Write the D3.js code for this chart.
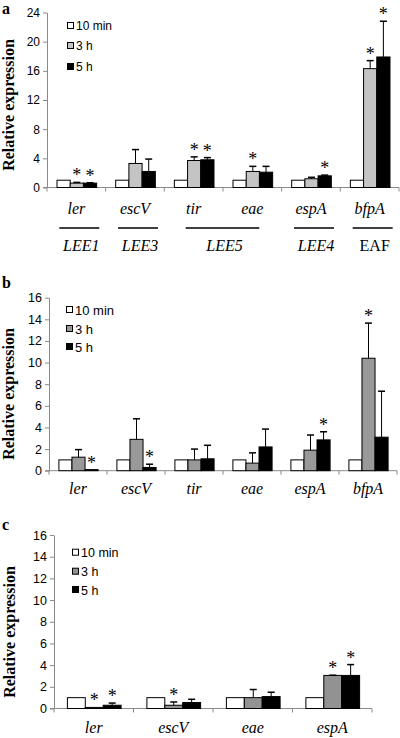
<!DOCTYPE html>
<html>
<head>
<meta charset="utf-8">
<script src="https://cdn.jsdelivr.net/npm/d3@7"></script>
<style>
  html, body { margin: 0; padding: 0; background: #fff; }
  svg { display: block; }
</style>
</head>
<body>
<svg id="chart" width="400" height="738"></svg>
<script>
// ---------- DATA ----------
const seriesNames = ["10 min", "3 h", "5 h"];

// Panel a
const genesA = ["ler", "escV", "tir", "eae", "espA", "bfpA"];
const a10min = [1, 1, 1, 1, 1, 1];
const a3h = [0.6, 3.3, 3.7, 2.2, 1.2, 16.3];
const a5h = [0.6, 2.2, 3.8, 2.1, 1.6, 17.9];
const a10minErr = [0, 0, 0, 0, 0, 0];
const a3hErr = [0.1, 1.9, 0.5, 0.7, 0.2, 1.1];
const a5hErr = [0.05, 1.7, 0.3, 0.8, 0.1, 4.9];
const a3hSig = [1, 0, 1, 1, 0, 1];
const a5hSig = [1, 0, 1, 0, 1, 1];
const aTicks = [0, 4, 8, 12, 16, 20, 24];
const aOperons = ["LEE1", "LEE3", "LEE5", "LEE4", "EAF"];
const aOperonFirst = ["ler", "escV", "tir", "espA", "bfpA"];
const aOperonLast = ["ler", "escV", "eae", "espA", "bfpA"];

// Panel b
const genesB = ["ler", "escV", "tir", "eae", "espA", "bfpA"];
const b10min = [1, 1, 1, 1, 1, 1];
const b3h = [1.25, 2.9, 1.0, 0.7, 1.9, 10.4];
const b5h = [0.1, 0.3, 1.1, 2.2, 2.85, 3.1];
const b10minErr = [0, 0, 0, 0, 0, 0];
const b3hErr = [0.7, 1.9, 1.0, 0.95, 1.4, 3.25];
const b5hErr = [0, 0.3, 1.25, 1.65, 0.75, 4.25];
const b3hSig = [0, 0, 0, 0, 0, 1];
const b5hSig = [1, 1, 0, 0, 1, 0];
const bTicks = [0, 2, 4, 6, 8, 10, 12, 14, 16];

// Panel c
const genesC = ["ler", "escV", "eae", "espA"];
const c10min = [1, 1, 1, 1];
const c3h = [0.1, 0.3, 1.0, 3.05];
const c5h = [0.3, 0.55, 1.1, 3.05];
const c10minErr = [0, 0, 0, 0];
const c3hErr = [0, 0.3, 0.75, 0.02];
const c5hErr = [0.2, 0.3, 0.4, 1.0];
const c3hSig = [1, 1, 0, 1];
const c5hSig = [1, 0, 0, 1];
const cTicks = [0, 2, 4, 6, 8, 10, 12, 14, 16];

// ---------- DRAWING ----------
const svg = d3.select("#chart");
const SERIF = "'Liberation Serif','Times New Roman',serif";
const SANS = "'Liberation Sans',Arial,sans-serif";
const AXIS = "#8a8a8a";

function drawPanel(p) {
  const g = svg.append("g");
  const y = d3.scaleLinear().domain([0, p.ticks[p.ticks.length - 1]]).range([p.y0, p.yTop]);
  const x0 = d3.scaleBand().domain(p.genes).range([p.xL, p.xR]).padding(0);
  const x1 = d3.scaleBand().domain(seriesNames).range([0, x0.bandwidth()])
    .paddingInner(0).paddingOuter(0.72);

  // panel letter
  g.append("text").attr("x", 2).attr("y", p.letterY)
    .attr("font-family", SERIF).attr("font-weight", "bold").attr("font-size", 16)
    .text(p.letter);

  // y title
  g.append("text")
    .attr("transform", `translate(${p.titleX},${p.titleY}) rotate(-90)`)
    .attr("text-anchor", "middle")
    .attr("font-family", SERIF).attr("font-weight", "bold").attr("font-size", 16)
    .text("Relative expression");

  // y axis
  const yAxis = d3.axisLeft(y).tickValues(p.ticks).tickSize(4).tickPadding(3).tickSizeOuter(0);
  const ya = g.append("g").attr("transform", `translate(${p.xL},0)`).call(yAxis);
  ya.select(".domain").attr("stroke", AXIS);
  ya.selectAll(".tick line").attr("stroke", AXIS);
  ya.selectAll(".tick text").attr("font-family", SANS).attr("font-size", p.tickFont).attr("fill", "#000");

  // x axis line + category boundary ticks
  g.append("line").attr("x1", p.xL - 4).attr("x2", p.xR).attr("y1", p.y0).attr("y2", p.y0)
    .attr("stroke", AXIS);
  const bounds = p.genes.map(d => x0(d)).concat([p.xR]);
  g.selectAll(".bt").data(bounds).join("line")
    .attr("x1", d => d).attr("x2", d => d)
    .attr("y1", p.y0).attr("y2", p.y0 + 4).attr("stroke", AXIS);

  // bars
  const rows = p.genes.map((gene, i) => seriesNames.map((s, k) => ({
    gene, s, v: p.vals[k][i], e: p.errs[k][i], sig: p.sigs[k] ? p.sigs[k][i] : 0, k
  })));
  const groups = g.selectAll(".grp").data(rows).join("g")
    .attr("transform", d => `translate(${x0(d[0].gene)},0)`);
  groups.selectAll("rect").data(d => d).join("rect")
    .attr("x", d => x1(d.s) + 0.5)
    .attr("y", d => y(d.v))
    .attr("width", x1.bandwidth())
    .attr("height", d => Math.max(0.5, y(0) - y(d.v)))
    .attr("fill", d => p.colors[d.k])
    .attr("stroke", "#000").attr("stroke-width", 1);
  // error bars
  const eb = groups.selectAll(".eb").data(d => d.filter(r => r.e > 0)).join("g");
  eb.append("line")
    .attr("x1", d => x1(d.s) + x1.bandwidth() / 2 + 0.5)
    .attr("x2", d => x1(d.s) + x1.bandwidth() / 2 + 0.5)
    .attr("y1", d => y(d.v)).attr("y2", d => y(d.v + d.e))
    .attr("stroke", "#000");
  eb.append("line")
    .attr("x1", d => x1(d.s) + x1.bandwidth() / 2 - 3)
    .attr("x2", d => x1(d.s) + x1.bandwidth() / 2 + 4)
    .attr("y1", d => y(d.v + d.e)).attr("y2", d => y(d.v + d.e))
    .attr("stroke", "#000").attr("stroke-width", 1.5);
  // significance stars
  groups.selectAll(".star").data(d => d.filter(r => r.sig)).join("text")
    .attr("x", d => x1(d.s) + x1.bandwidth() / 2 + 0.5)
    .attr("y", d => y(d.v + d.e) - 1)
    .attr("text-anchor", "middle")
    .attr("font-family", SERIF).attr("font-size", 18)
    .text("*");

  // gene labels
  g.selectAll(".gl").data(p.genes).join("text")
    .attr("x", d => x0(d) + x0.bandwidth() / 2)
    .attr("y", p.labelY)
    .attr("text-anchor", "middle")
    .attr("font-family", SERIF).attr("font-style", "italic").attr("font-size", 16)
    .text(d => d);

  // legend
  const lg = g.append("g");
  seriesNames.forEach((s, k) => {
    const cy = p.legY[k];
    lg.append("rect").attr("x", p.legX + 0.5).attr("y", cy - 3.5).attr("width", 6).attr("height", 6)
      .attr("fill", p.colors[k]).attr("stroke", "#000");
    lg.append("text").attr("x", p.legX + 9).attr("y", cy + p.legFont * 0.36)
      .attr("font-family", SANS).attr("font-size", p.legFont).text(s);
  });

  // operon grouping (panel a)
  if (p.operons) {
    p.operons.forEach((name, i) => {
      const f = p.operonFirst[i], l = p.operonLast[i];
      const cf = x0(f) + x0.bandwidth() / 2, cl = x0(l) + x0.bandwidth() / 2;
      const half = f === l ? 20 : 7;
      const xa = cf - half + (f === l ? 3 : -1), xb = cl + half + (f === l ? 3 : 0);
      g.append("line").attr("x1", xa).attr("x2", xb).attr("y1", p.opLineY).attr("y2", p.opLineY)
        .attr("stroke", "#000").attr("stroke-width", 1.3);
      g.append("text").attr("x", (xa + xb) / 2 + 2).attr("y", p.opLabelY)
        .attr("text-anchor", "middle")
        .attr("font-family", SERIF).attr("font-style", name === "EAF" ? "normal" : "italic")
        .attr("font-size", 16).text(name);
    });
  }
}

drawPanel({
  letter: "a", letterY: 14, titleX: 14, titleY: 105,
  genes: genesA, vals: [a10min, a3h, a5h], errs: [a10minErr, a3hErr, a5hErr], sigs: [null, a3hSig, a5hSig],
  ticks: aTicks, xL: 47, xR: 399, y0: 187.5, yTop: 12.5,
  colors: ["#ffffff", "#c4c4c4", "#000000"],
  labelY: 214, tickFont: 12,
  legX: 67, legY: [26, 46, 67], legFont: 12,
  operons: aOperons, operonFirst: aOperonFirst, operonLast: aOperonLast,
  opLineY: 228, opLabelY: 251
});

drawPanel({
  letter: "b", letterY: 288, titleX: 14, titleY: 394,
  genes: genesB, vals: [b10min, b3h, b5h], errs: [b10minErr, b3hErr, b5hErr], sigs: [null, b3hSig, b5hSig],
  ticks: bTicks, xL: 49, xR: 397, y0: 470.7, yTop: 297.7,
  colors: ["#ffffff", "#999999", "#000000"],
  labelY: 494, tickFont: 12.5,
  legX: 66, legY: [310, 329, 347], legFont: 13
});

drawPanel({
  letter: "c", letterY: 530, titleX: 15, titleY: 632,
  genes: genesC, vals: [c10min, c3h, c5h], errs: [c10minErr, c3hErr, c5hErr], sigs: [null, c3hSig, c5hSig],
  ticks: cTicks, xL: 54, xR: 372, y0: 708.5, yTop: 535,
  colors: ["#ffffff", "#929292", "#000000"],
  labelY: 733, tickFont: 12.5,
  legX: 72, legY: [552.7, 571.7, 590], legFont: 12.5
});
</script>
</body>
</html>
